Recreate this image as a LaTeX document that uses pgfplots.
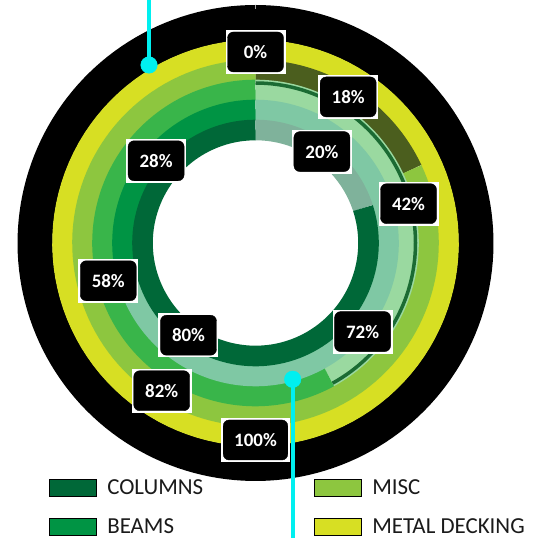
\documentclass[border=0pt]{standalone}
\usepackage{pgfplots}
\pgfplotsset{compat=1.18}
\usepackage{pgfplotstable}
\usepackage{fontspec}
\setmainfont{Carlito}

\definecolor{decking}{HTML}{D7DF23}
\definecolor{misc}{HTML}{8DC63F}
\definecolor{miscdim}{HTML}{4B5E1E}
\definecolor{joists}{HTML}{39B54A}
\definecolor{joistsdim}{HTML}{9AD9A0}
\definecolor{beams}{HTML}{009444}
\definecolor{beamsdim}{HTML}{7FC8A4}
\definecolor{columns}{HTML}{006838}
\definecolor{columnsdim}{HTML}{7FB29B}
\definecolor{edge}{HTML}{1B6B33}
\definecolor{callout}{HTML}{00F0F0}
\definecolor{legtext}{HTML}{1A1A1A}

% one ring segment: radius, start (%), share (%), colour
\newcommand{\seg}[4]{%
  \addplot[forget plot, draw=#4, line width=20.6bp, samples=120,
    domain=#2:#2+#3, variable=\t] ({#1*sin(3.6*t)}, {#1*cos(3.6*t)});}

% data labels: where the segment starts, its share, label radius
\pgfplotstableread{
start pct r
0     0   191
0     100 197
0     18  173
18    82  175
0     42  158
42    58  152
0     72  139
72    28  129
0     20  113
20    80  114
}\labels

\begin{document}
\begin{tikzpicture}
\begin{axis}[
    x=1bp, y=1bp,
    xmin=-255.5, xmax=278.5,
    ymin=-295, ymax=243,
    hide axis, clip=false,
    legend columns=2,
    legend cell align=left,
    legend image code/.code={\fill[#1] (0bp,-8.35bp) rectangle (46.7bp,8.35bp);},
    legend style={at={(axis cs:-206.5,-236)}, anchor=north west,
        draw=none, fill=none, inner sep=0pt, text=legtext,
        font=\fontsize{23}{23}\selectfont, row sep=21.8bp,
        nodes={inner sep=0pt},
        /tikz/every odd column/.append style={column sep=11bp},
        /tikz/every even column/.append style={column sep=111bp}},
]
% outer black band
\addplot[forget plot, draw=black, line width=35bp, samples=180,
    domain=0:100, variable=\t] ({220.5*sin(3.6*t)}, {220.5*cos(3.6*t)});

% metal decking: 0 / 100
\seg{193}{0}{100}{decking}
% misc: 18 / 82
\seg{173}{0}{18}{miscdim}
\seg{173}{18}{82}{misc}
% joists: 42 / 58
\seg{153}{0}{42}{joistsdim}
\seg{153}{42}{58}{joists}
% beams: 72 / 28
\seg{133}{0}{72}{beamsdim}
\seg{133}{72}{28}{beams}
% columns: 20 / 80
\seg{113}{0}{20}{columnsdim}
\seg{113}{20}{80}{columns}

% dark rim along the pale joists segment
\addplot[forget plot, draw=edge, line width=3.5bp, samples=80,
    domain=0:42, variable=\t] ({160*sin(3.6*t)}, {160*cos(3.6*t)});

\addplot[forget plot, only marks, mark=none, point meta=explicit,
    nodes near coords={\pgfmathprintnumber[assume math mode=true]{\pgfplotspointmeta}\%},
    every node near coord/.append style={anchor=center, fill=white,
        text=white, inner xsep=13bp, inner ysep=0pt,
        minimum width=60bp, minimum height=44bp,
        font=\fontsize{19}{20}\selectfont\bfseries,
        path picture={\fill[black, rounded corners=6bp]
            ([xshift=2bp,yshift=2bp]path picture bounding box.south west)
            rectangle ([xshift=-2bp,yshift=-2bp]path picture bounding box.north east);}},
] table[x expr={\thisrow{r}*sin(3.6*(\thisrow{start}+\thisrow{pct}/2))},
        y expr={\thisrow{r}*cos(3.6*(\thisrow{start}+\thisrow{pct}/2))},
        meta=pct] {\labels};

% callout lines
\addplot[forget plot, draw=callout, line width=4bp] coordinates {(-106.5,178) (-106.5,243)};
\addplot[forget plot, only marks, mark=*, mark size=8.3bp, color=callout] coordinates {(-106.5,178)};
\addplot[forget plot, draw=callout, line width=4bp] coordinates {(37.2,-136.3) (37.2,-295)};
\addplot[forget plot, only marks, mark=*, mark size=8.3bp, color=callout] coordinates {(37.2,-136.3)};

\addlegendimage{fill=columns}\addlegendentry{COLUMNS}
\addlegendimage{fill=misc}\addlegendentry{MISC}
\addlegendimage{fill=beams}\addlegendentry{BEAMS}
\addlegendimage{fill=decking}\addlegendentry{METAL DECKING}
\end{axis}
\pgfresetboundingbox
\path (current axis.south west) rectangle (current axis.north east);
\end{tikzpicture}
\end{document}
